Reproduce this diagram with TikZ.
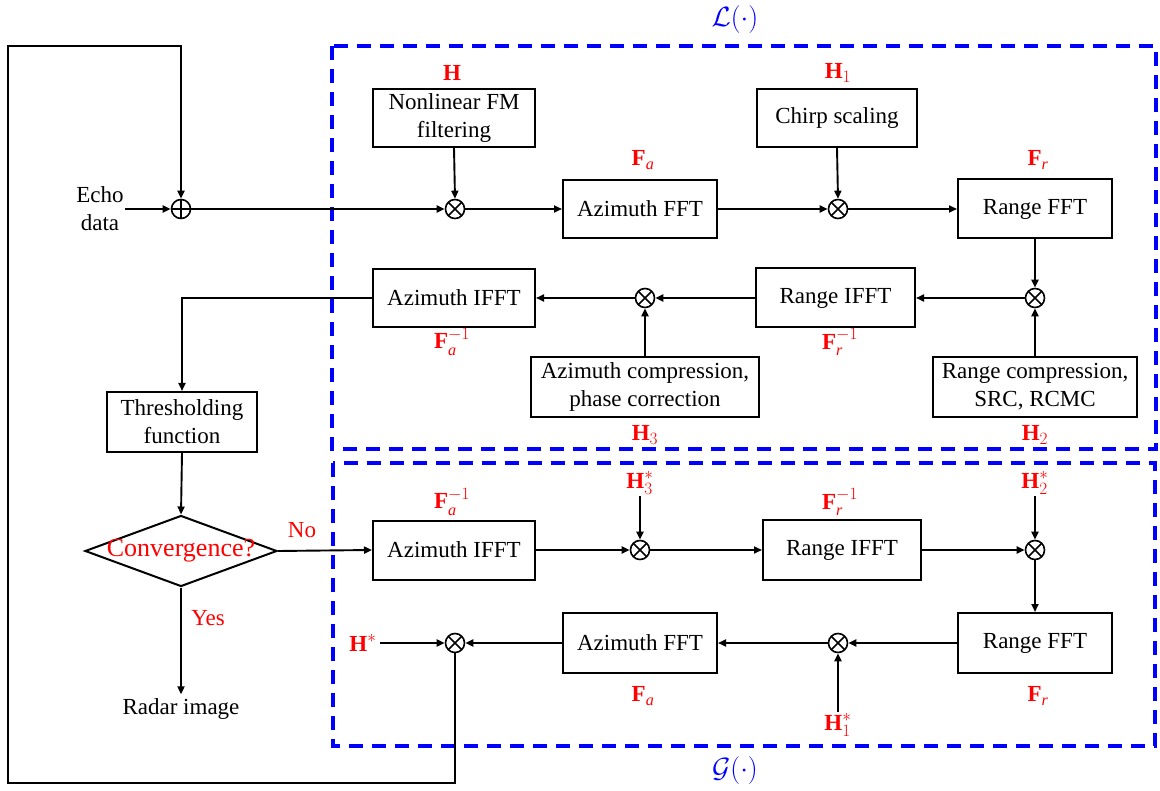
\documentclass[tikz,border=0pt]{standalone}
\usepackage{graphicx}
\usepackage{fontspec}
\setmainfont{Liberation Serif}
\usetikzlibrary{shapes.geometric,arrows.meta}
\begin{document}
\begin{tikzpicture}[x=1pt,y=-1pt,
  every node/.style={font=\fontsize{23}{28}\selectfont},
  blk/.style={draw,line width=2pt,inner sep=0pt,align=center},
  mul/.style={draw,circle,line width=1.6pt,minimum size=19pt,inner sep=0pt,
    path picture={\draw[line width=1.6pt] (path picture bounding box.north west)--(path picture bounding box.south east)
      (path picture bounding box.north east)--(path picture bounding box.south west);}},
  add/.style={draw,circle,line width=1.6pt,minimum size=19pt,inner sep=0pt,
    path picture={\draw[line width=1.6pt] (path picture bounding box.north)--(path picture bounding box.south)
      (path picture bounding box.east)--(path picture bounding box.west);}},
  lab/.style={text=red,inner sep=1pt},
  arr/.style={line width=1.9pt,-{Triangle[length=8pt,width=7pt]}},
  dbox/.style={draw=blue,line width=3.5pt,dash pattern=on 14pt off 9pt},
  fun/.style={text=blue,inner sep=0pt}
]
\useasboundingbox (0,0) rectangle (1160,791);

% dashed frames
\draw[dbox] (332,46) rectangle (1156,449);
\draw[dbox] (333,463) rectangle (1155,746);
\node[fun] (Lf) at (735,20) {\scalebox{1.12}{$\mathcal{L}(\cdot)$}};
\node[fun] (Gf) at (735,771) {\scalebox{1.12}{$\mathcal{G}(\cdot)$}};

% upper part
\node[inner sep=1pt,align=center] (echo) at (100,209) {Echo\\data};
\node[add] (p1) at (181,209) {};
\node[mul] (m1) at (455,209) {};
\node[mul] (m2) at (838,209) {};
\node[mul] (m3) at (1035,298) {};
\node[mul] (m4) at (645,298) {};

\node[blk,minimum width=162pt,minimum height=58pt] (nlfm) at (454,118) {Nonlinear FM\\filtering};
\node[blk,minimum width=154pt,minimum height=58pt] (azfft1) at (640,209) {Azimuth FFT};
\node[blk,minimum width=160pt,minimum height=58pt] (chirp) at (837,118) {Chirp scaling};
\node[blk,minimum width=154pt,minimum height=59pt] (rfft1) at (1035,209) {Range FFT};
\node[blk,minimum width=159pt,minimum height=59pt] (rifft1) at (835.5,298) {Range IFFT};
\node[blk,minimum width=162pt,minimum height=58pt] (azifft1) at (454,298) {Azimuth IFFT};
\node[blk,minimum width=228pt,minimum height=60pt] (azcomp) at (645,387) {Azimuth compression,\\phase correction};
\node[blk,minimum width=204pt,minimum height=60pt] (rcomp) at (1035,387) {Range compression,\\SRC, RCMC};

\node[lab] (lH) at (452,73) {$\mathbf{H}$};
\node[lab] (lH1) at (838,73) {$\mathbf{H}_{1}$};
\node[lab] (lFa) at (643,160) {$\mathbf{F}_{\mathit{a}}$};
\node[lab] (lFr) at (1038,160) {$\mathbf{F}_{\mathit{r}}$};
\node[lab] (lFai) at (452,342) {$\mathbf{F}_{\mathit{a}}^{-1}$};
\node[lab] (lFri) at (840,342) {$\mathbf{F}_{\mathit{r}}^{-1}$};
\node[lab] (lH3) at (645,435) {$\mathbf{H}_{3}$};
\node[lab] (lH2) at (1035,435) {$\mathbf{H}_{2}$};

% left column
\node[blk,minimum width=150pt,minimum height=60pt] (thr) at (182,422) {Thresholding\\function};
\node[draw,diamond,line width=2pt,minimum width=192pt,minimum height=71pt,inner sep=0pt] (conv) at (181,551) {};
\node[text=red,font=\fontsize{26}{30}\selectfont] (convt) at (conv) {Convergence?};
\node[inner sep=4pt] (radar) at (181,709) {Radar image};
\node[text=red] (no) at (302,530) {No};
\node[text=red] (yes) at (208,618) {Yes};

% lower part
\node[blk,minimum width=162pt,minimum height=59pt] (azifft2) at (454,550) {Azimuth IFFT};
\node[blk,minimum width=158pt,minimum height=60pt] (rifft2) at (842,550) {Range IFFT};
\node[blk,minimum width=154pt,minimum height=60pt] (rfft2) at (1035,643) {Range FFT};
\node[blk,minimum width=154pt,minimum height=60pt] (azfft2) at (640,643) {Azimuth FFT};
\node[mul] (m5) at (640,550) {};
\node[mul] (m6) at (1035,550) {};
\node[mul] (m7) at (838,643) {};
\node[mul] (m8) at (455,643) {};

\node[lab] (lFai2) at (452,502) {$\mathbf{F}_{\mathit{a}}^{-1}$};
\node[lab] (lH3s) at (640,483) {$\mathbf{H}_{3}^{*}$};
\node[lab] (lFri2) at (840,502) {$\mathbf{F}_{\mathit{r}}^{-1}$};
\node[lab] (lH2s) at (1035,483) {$\mathbf{H}_{2}^{*}$};
\node[lab] (lFr2) at (1038,696) {$\mathbf{F}_{\mathit{r}}$};
\node[lab] (lH1s) at (838,725) {$\mathbf{H}_{1}^{*}$};
\node[lab] (lFa2) at (643,696) {$\mathbf{F}_{\mathit{a}}$};
\node[lab,inner sep=3pt] (lHs) at (363,643) {$\mathbf{H}^{*}$};

% connectors upper
\draw[arr] (echo.east) -- (p1.west);
\draw[arr] (p1.east) -- (m1.west);
\draw[arr] (nlfm.south) -- (m1.north);
\draw[arr] (m1.east) -- (azfft1.west);
\draw[arr] (azfft1.east) -- (m2.west);
\draw[arr] (chirp.south) -- (m2.north);
\draw[arr] (m2.east) -- (rfft1.west);
\draw[arr] (rfft1.south) -- (m3.north);
\draw[arr] (rcomp.north) -- (m3.south);
\draw[arr] (m3.west) -- (rifft1.east);
\draw[arr] (rifft1.west) -- (m4.east);
\draw[arr] (azcomp.north) -- (m4.south);
\draw[arr] (m4.west) -- (azifft1.east);
\draw[arr] (azifft1.west) -| (thr.north);
\draw[arr] (thr.south) -- (conv.north);
\draw[arr] (conv.east) -- (azifft2.west);
\draw[arr] (conv.south) -- (radar.north);

% connectors lower
\draw[arr] (azifft2.east) -- (m5.west);
\draw[arr] (lH3s.south) -- (m5.north);
\draw[arr] (m5.east) -- (rifft2.west);
\draw[arr] (rifft2.east) -- (m6.west);
\draw[arr] (lH2s.south) -- (m6.north);
\draw[arr] (m6.south) -- (rfft2.north);
\draw[arr] (rfft2.west) -- (m7.east);
\draw[arr] (lH1s.north) -- (m7.south);
\draw[arr] (m7.west) -- (azfft2.east);
\draw[arr] (azfft2.west) -- (m8.east);
\draw[arr] (lHs.east) -- (m8.west);

% feedback loop
\coordinate (lb) at (8,783);
\coordinate (lt) at (8,46);
\draw[arr] (m8.south) |- (lb) -- (lt) -| (p1.north);
\end{tikzpicture}
\end{document}
